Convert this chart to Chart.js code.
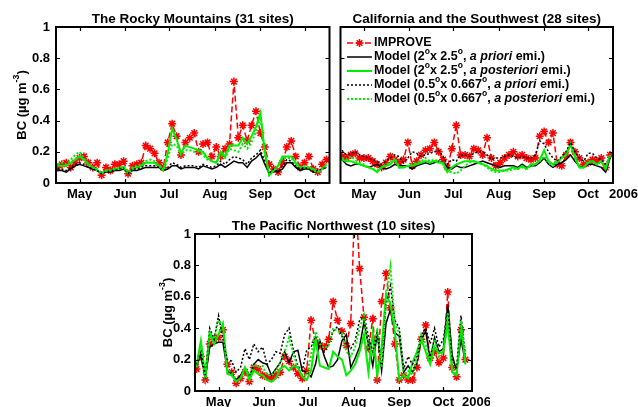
<!DOCTYPE html>
<html>
<head>
<meta charset="utf-8">
<script src="https://cdn.jsdelivr.net/npm/chart.js@4.4.1/dist/chart.umd.min.js"></script>
<style>
  html, body { margin: 0; padding: 0; background: #fff; width: 638px; height: 407px; overflow: hidden; }
  canvas { position: absolute; }
</style>
</head>
<body>
<canvas id="rocky" width="335" height="205" style="left:0px;top:0px"></canvas>
<canvas id="calif" width="303" height="205" style="left:335px;top:0px"></canvas>
<canvas id="pnw" width="345" height="202" style="left:145px;top:205px"></canvas>
<script>
// Sampling days (day of year, 2006), one IMPROVE sample every third day
const sampleDays = [106,109,112,115,118,121,124,127,130,133,136,139,142,145,148,151,154,157,160,163,
  166,169,172,175,178,181,184,187,190,193,196,199,202,205,208,211,214,217,220,223,
  226,229,232,235,238,241,244,247,250,253,256,259,262,265,268,271,274,277,280,283,286,289];

// Month tick positions (first day of month) and their labels
const monthStarts = [121, 152, 182, 213, 244, 274];
const monthNames = ['May', 'Jun', 'Jul', 'Aug', 'Sep', 'Oct'];

// Series names
const seriesNames = [
  'IMPROVE',
  'Model (2°x 2.5°, a priori emi.)',
  'Model (2°x 2.5°, a posteriori emi.)',
  'Model (0.5°x 0.667°, a priori emi.)',
  'Model (0.5°x 0.667°, a posteriori emi.)'
];

// ---- The Rocky Mountains (31 sites) ----
const rockyImprove = [0.10,0.12,0.13,0.10,0.13,0.16,0.17,0.13,0.10,0.13, 0.05,0.10,0.08,0.12,0.12,0.14,0.06,0.11,0.12,0.13,
  0.24,0.22,0.19,0.13,0.10,0.26,0.38,0.30,0.18,0.26, 0.29,0.32,0.20,0.25,0.26,0.17,0.23,0.17,0.22,0.25,
  0.65,0.29,0.37,0.27,0.37,0.46,0.32,0.23,0.12,0.09, 0.07,0.13,0.23,0.27,0.17,0.10,0.13,0.17,0.09,0.07, 0.12,0.15];
const rockyPriori2x25 = [0.08,0.08,0.07,0.09,0.11,0.12,0.11,0.10,0.09,0.08, 0.06,0.07,0.07,0.08,0.08,0.09,0.06,0.08,0.08,0.09,
  0.10,0.10,0.10,0.10,0.08,0.09,0.11,0.11,0.09,0.10, 0.10,0.10,0.09,0.11,0.10,0.09,0.10,0.12,0.10,0.12,
  0.14,0.13,0.13,0.10,0.14,0.16,0.19,0.12,0.06,0.08, 0.07,0.09,0.13,0.13,0.10,0.08,0.09,0.09,0.07,0.07, 0.09,0.10];
const rockyPost2x25 = [0.11,0.11,0.11,0.13,0.15,0.17,0.15,0.12,0.10,0.08, 0.06,0.08,0.08,0.09,0.09,0.10,0.06,0.09,0.10,0.11,
  0.13,0.13,0.13,0.11,0.08,0.19,0.35,0.28,0.19,0.24, 0.23,0.22,0.21,0.20,0.16,0.14,0.13,0.20,0.17,0.24,
  0.24,0.24,0.29,0.25,0.30,0.36,0.45,0.20,0.05,0.08, 0.11,0.17,0.17,0.17,0.13,0.10,0.10,0.10,0.09,0.07, 0.09,0.12];
const rockyPriori05 = [0.09,0.09,0.08,0.10,0.12,0.13,0.12,0.10,0.09,0.08, 0.06,0.07,0.08,0.08,0.09,0.10,0.06,0.09,0.09,0.10,
  0.11,0.11,0.11,0.10,0.08,0.10,0.13,0.12,0.10,0.11, 0.11,0.11,0.10,0.12,0.11,0.10,0.11,0.14,0.12,0.15,
  0.17,0.16,0.15,0.12,0.16,0.18,0.21,0.14,0.06,0.09, 0.07,0.11,0.15,0.14,0.11,0.09,0.10,0.09,0.07,0.08, 0.09,0.10];
const rockyPost05 = [0.12,0.13,0.12,0.15,0.18,0.20,0.16,0.12,0.10,0.09, 0.06,0.08,0.08,0.09,0.10,0.11,0.07,0.10,0.11,0.12,
  0.14,0.15,0.14,0.12,0.08,0.16,0.25,0.24,0.18,0.21, 0.21,0.20,0.20,0.18,0.15,0.14,0.13,0.18,0.16,0.22,
  0.21,0.20,0.25,0.22,0.26,0.33,0.42,0.18,0.05,0.08, 0.11,0.16,0.16,0.16,0.12,0.10,0.11,0.10,0.08,0.07, 0.09,0.11];

// ---- California and the Southwest (28 sites) ----
const califImprove = [0.17,0.16,0.18,0.19,0.16,0.16,0.16,0.14,0.12,0.10, 0.13,0.17,0.15,0.13,0.15,0.26,0.11,0.14,0.18,0.21,
  0.22,0.26,0.20,0.15,0.10,0.22,0.37,0.18,0.18,0.17, 0.22,0.21,0.18,0.29,0.16,0.11,0.13,0.16,0.18,0.20,
  0.17,0.18,0.16,0.15,0.16,0.30,0.33,0.26,0.32,0.12, 0.11,0.18,0.26,0.20,0.16,0.12,0.13,0.15,0.14,0.16, 0.10,0.18];
const califPriori2x25 = [0.15,0.12,0.11,0.12,0.12,0.11,0.10,0.11,0.12,0.10, 0.09,0.10,0.12,0.11,0.11,0.11,0.09,0.11,0.12,0.13,
  0.12,0.13,0.14,0.13,0.10,0.09,0.11,0.10,0.10,0.11, 0.12,0.13,0.14,0.13,0.12,0.11,0.10,0.11,0.11,0.11,
  0.10,0.12,0.10,0.11,0.11,0.13,0.16,0.12,0.10,0.12, 0.13,0.15,0.18,0.14,0.11,0.10,0.12,0.12,0.11,0.10, 0.07,0.16];
const califPost2x25 = [0.15,0.14,0.14,0.13,0.12,0.11,0.10,0.09,0.07,0.10, 0.11,0.12,0.15,0.10,0.10,0.11,0.11,0.12,0.13,0.14,
  0.13,0.14,0.13,0.13,0.07,0.10,0.12,0.13,0.14,0.14, 0.14,0.13,0.12,0.11,0.09,0.08,0.08,0.08,0.09,0.10,
  0.09,0.11,0.09,0.12,0.12,0.15,0.21,0.14,0.12,0.14, 0.16,0.18,0.25,0.17,0.10,0.10,0.13,0.14,0.12,0.14, 0.09,0.18];
const califPriori05 = [0.21,0.18,0.19,0.20,0.18,0.17,0.16,0.15,0.14,0.12, 0.14,0.16,0.18,0.17,0.13,0.16,0.20,0.19,0.17,0.18,
  0.19,0.20,0.21,0.17,0.12,0.15,0.14,0.18,0.18,0.17, 0.19,0.20,0.20,0.18,0.15,0.16,0.16,0.17,0.18,0.17,
  0.16,0.17,0.16,0.16,0.18,0.27,0.25,0.20,0.16,0.14, 0.17,0.20,0.26,0.20,0.16,0.14,0.19,0.19,0.16,0.15, 0.12,0.17];
const califPost05 = [0.16,0.15,0.17,0.15,0.13,0.12,0.10,0.09,0.08,0.10, 0.12,0.13,0.16,0.10,0.10,0.11,0.12,0.13,0.14,0.16,
  0.14,0.15,0.14,0.12,0.07,0.07,0.06,0.08,0.11,0.13, 0.14,0.13,0.12,0.10,0.08,0.07,0.07,0.08,0.08,0.09,
  0.09,0.10,0.09,0.11,0.12,0.14,0.17,0.13,0.11,0.13, 0.16,0.18,0.24,0.16,0.10,0.10,0.14,0.14,0.12,0.14, 0.10,0.18];

// ---- The Pacific Northwest (10 sites) ----
const pnwImprove = [0.14,0.22,0.07,0.30,0.33,0.34,0.39,0.17,0.12,0.05, 0.08,0.12,0.06,0.15,0.14,0.10,0.09,0.08,0.10,0.12,
  0.22,0.19,0.15,0.11,0.08,0.13,0.45,0.31,0.29,0.28, 0.33,0.57,0.45,0.38,0.29,0.43,1.30,0.78,0.47,0.27,
  0.46,0.07,0.57,0.75,0.53,0.30,0.07,0.10,0.07,0.07, 0.15,0.33,0.42,0.21,0.25,0.18,0.21,0.63,0.15,0.09, 0.39,0.20];
const pnwPriori2x25 = [0.16,0.23,0.08,0.28,0.30,0.31,0.31,0.13,0.11,0.07, 0.10,0.14,0.09,0.17,0.20,0.18,0.17,0.10,0.14,0.18,
  0.25,0.18,0.25,0.26,0.13,0.12,0.09,0.17,0.32,0.22, 0.15,0.16,0.20,0.32,0.36,0.15,0.21,0.28,0.44,0.30,
  0.16,0.37,0.13,0.43,0.52,0.37,0.35,0.12,0.16,0.12, 0.18,0.33,0.38,0.20,0.34,0.25,0.27,0.55,0.23,0.13, 0.33,0.18];
const pnwPost2x25 = [0.16,0.32,0.09,0.37,0.30,0.36,0.43,0.11,0.10,0.06, 0.08,0.15,0.07,0.13,0.11,0.10,0.07,0.06,0.08,0.14,
  0.16,0.13,0.16,0.15,0.09,0.07,0.13,0.33,0.16,0.15, 0.14,0.25,0.22,0.20,0.10,0.13,0.17,0.25,0.36,0.12,
  0.37,0.10,0.28,0.62,0.55,0.38,0.07,0.10,0.08,0.18, 0.25,0.33,0.25,0.17,0.28,0.24,0.25,0.43,0.12,0.10, 0.43,0.17];
const pnwPriori05 = [0.17,0.25,0.10,0.40,0.33,0.48,0.33,0.20,0.19,0.12, 0.15,0.27,0.20,0.30,0.25,0.28,0.17,0.20,0.25,0.24,
  0.36,0.40,0.26,0.16,0.13,0.26,0.28,0.35,0.30,0.25, 0.30,0.38,0.41,0.35,0.30,0.27,0.32,0.45,0.48,0.35,
  0.25,0.38,0.15,0.55,0.67,0.45,0.40,0.14,0.22,0.17, 0.22,0.36,0.40,0.30,0.40,0.28,0.33,0.52,0.20,0.15, 0.48,0.23];
const pnwPost05 = [0.15,0.30,0.08,0.38,0.33,0.45,0.42,0.13,0.12,0.06, 0.08,0.15,0.09,0.17,0.15,0.16,0.10,0.10,0.13,0.18,
  0.25,0.34,0.23,0.15,0.10,0.10,0.23,0.38,0.30,0.27, 0.29,0.40,0.38,0.37,0.25,0.22,0.28,0.40,0.48,0.27,
  0.22,0.40,0.15,0.60,0.79,0.43,0.37,0.10,0.13,0.10, 0.20,0.36,0.30,0.19,0.33,0.22,0.25,0.50,0.15,0.10, 0.45,0.20];

// Line styles, one per series
const seriesStyles = [
  { borderColor: '#ff0000', borderWidth: 1.5, borderDash: [6, 3], pointStyle: 'star', pointRadius: 4, pointBorderWidth: 1.5, order: 5 },
  { borderColor: '#000000', borderWidth: 1.5, borderDash: [], pointRadius: 0, order: 4 },
  { borderColor: '#00ee00', borderWidth: 2, borderDash: [], pointRadius: 0, order: 3 },
  { borderColor: '#000000', borderWidth: 1.5, borderDash: [2, 2], pointRadius: 0, order: 2 },
  { borderColor: '#00ee00', borderWidth: 2, borderDash: [2, 2], pointRadius: 0, order: 1 }
];

// Legend text pieces: [text, flags] with i = italic, s = superscript
const legendPieces = [
  [['IMPROVE', '']],
  [['Model (2', ''], ['o', 's'], ['x 2.5', ''], ['o', 's'], [', ', ''], ['a priori', 'i'], [' emi.)', '']],
  [['Model (2', ''], ['o', 's'], ['x 2.5', ''], ['o', 's'], [', ', ''], ['a posteriori', 'i'], [' emi.)', '']],
  [['Model (0.5', ''], ['o', 's'], ['x 0.667', ''], ['o', 's'], [', ', ''], ['a priori', 'i'], [' emi.)', '']],
  [['Model (0.5', ''], ['o', 's'], ['x 0.667', ''], ['o', 's'], [', ', ''], ['a posteriori', 'i'], [' emi.)', '']]
];
const yTitlePieces = [['BC (\u00b5g m', ''], ['-3', 's'], [')', '']];

const FAMILY = '"Liberation Sans", Arial, Helvetica, sans-serif';

function pieceFont(flags, size) {
  const sz = flags.includes('s') ? size * 0.68 : size;
  return (flags.includes('i') ? 'italic ' : '') + 'bold ' + sz + 'px ' + FAMILY;
}
function richWidth(ctx, pieces, size) {
  let w = 0;
  pieces.forEach(([t, f]) => { ctx.font = pieceFont(f, size); w += ctx.measureText(t).width; });
  return w;
}
function drawRich(ctx, pieces, x, y, size, align) {
  let cx = align === 'center' ? x - richWidth(ctx, pieces, size) / 2 : x;
  ctx.textAlign = 'left';
  ctx.textBaseline = 'middle';
  pieces.forEach(([t, f]) => {
    ctx.font = pieceFont(f, size);
    const dy = f.includes('s') ? -size * 0.4 : 0;
    ctx.fillText(t, cx, y + dy);
    cx += ctx.measureText(t).width;
  });
}

// Frame, inside ticks, titles, legend and year label for each panel
const panelDecor = {
  id: 'panelDecor',
  afterDatasetsDraw(chart, args, opts) {
    const { ctx, chartArea: a, scales } = chart;
    const xs = scales.x, ys = scales.y;
    ctx.save();
    ctx.fillStyle = '#000';
    ctx.strokeStyle = '#000';
    ctx.setLineDash([]);
    ctx.lineWidth = 1.2;
    ctx.beginPath();
    monthStarts.forEach(d => {
      const px = Math.round(xs.getPixelForValue(d)) + 0.5;
      ctx.moveTo(px, a.bottom); ctx.lineTo(px, a.bottom - 4);
      ctx.moveTo(px, a.top); ctx.lineTo(px, a.top + 4);
    });
    ys.ticks.forEach(t => {
      const py = Math.round(ys.getPixelForValue(t.value)) + 0.5;
      ctx.moveTo(a.left, py); ctx.lineTo(a.left + 4, py);
      ctx.moveTo(a.right, py); ctx.lineTo(a.right - 4, py);
    });
    ctx.stroke();
    ctx.lineWidth = 2;
    ctx.strokeRect(a.left, a.top, a.right - a.left, a.bottom - a.top);

    // panel title
    ctx.font = 'bold 13.5px ' + FAMILY;
    ctx.textAlign = 'center';
    ctx.textBaseline = 'alphabetic';
    ctx.fillText(opts.title, (a.left + a.right) / 2, a.top - 4);

    // y-axis title
    if (opts.yTitleX != null) {
      ctx.save();
      ctx.translate(opts.yTitleX, (a.top + a.bottom) / 2);
      ctx.rotate(-Math.PI / 2);
      drawRich(ctx, yTitlePieces, 0, 0, 13, 'center');
      ctx.restore();
    }

    // year label after the last month
    if (opts.yearX != null) {
      ctx.font = 'bold 13px ' + FAMILY;
      ctx.textAlign = 'left';
      ctx.textBaseline = 'middle';
      ctx.fillText('2006', a.right + opts.yearX, a.bottom + 11);
    }

    // legend
    if (opts.legend) {
      const L = opts.legend;
      chart.data.datasets.forEach((ds, i) => {
        const yy = L.y + i * L.dy;
        ctx.save();
        ctx.strokeStyle = ds.borderColor;
        ctx.lineWidth = ds.borderWidth;
        ctx.setLineDash(ds.borderDash || []);
        ctx.beginPath();
        ctx.moveTo(L.x, yy); ctx.lineTo(L.x + L.len, yy);
        ctx.stroke();
        ctx.setLineDash([]);
        if (ds.pointRadius > 0) {
          Chart.helpers.drawPoint(ctx, { pointStyle: ds.pointStyle, radius: ds.pointRadius, rotation: 0, borderWidth: ds.pointBorderWidth }, L.x + L.len / 2, yy);
        }
        ctx.restore();
        ctx.fillStyle = '#000';
        drawRich(ctx, legendPieces[i], L.x + L.len + 2, yy, 12.5, 'left');
      });
    }
    ctx.restore();
  }
};

function buildPanel(canvasId, seriesList, o) {
  const datasets = seriesList.map((vals, i) => Object.assign({
    label: seriesNames[i],
    data: sampleDays.map((d, k) => ({ x: d, y: vals[k] })),
    tension: 0,
    fill: false,
    pointBackgroundColor: seriesStyles[i].borderColor,
    pointBorderColor: seriesStyles[i].borderColor
  }, seriesStyles[i]));

  return new Chart(document.getElementById(canvasId), {
    type: 'line',
    data: { datasets },
    plugins: [panelDecor],
    options: {
      responsive: false,
      animation: false,
      events: [],
      layout: { padding: { left: 0, top: o.top, right: o.right, bottom: o.bottom } },
      plugins: {
        legend: { display: false },
        tooltip: { enabled: false },
        title: { display: false },
        panelDecor: o.decor
      },
      scales: {
        x: {
          type: 'linear',
          min: o.xMin, max: o.xMax,
          grid: { display: false, drawTicks: false },
          border: { display: false },
          afterBuildTicks: s => { s.ticks = monthStarts.map(v => ({ value: v })); },
          afterFit: s => { s.height = o.xHeight; },
          ticks: {
            autoSkip: false, maxRotation: 0, padding: 4,
            color: '#000',
            font: { family: FAMILY, weight: 'bold', size: 13 },
            callback: v => monthNames[monthStarts.indexOf(v)]
          }
        },
        y: {
          min: 0, max: 1,
          grid: { display: false, drawTicks: false },
          border: { display: false },
          afterFit: s => { s.width = o.yWidth; },
          ticks: {
            display: o.yLabels,
            stepSize: 0.2, padding: o.yPad,
            color: '#000',
            font: { family: FAMILY, weight: 'bold', size: 13 },
            callback: v => String(+v.toFixed(1))
          }
        }
      }
    }
  });
}

buildPanel('rocky', [rockyImprove, rockyPriori2x25, rockyPost2x25, rockyPriori05, rockyPost05], {
  top: 27, right: 4, bottom: 5, xHeight: 17, yWidth: 56, yPad: 6, yLabels: true, xMin: 105, xMax: 291,
  decor: { title: 'The Rocky Mountains (31 sites)', yTitleX: 22 }
});
buildPanel('calif', [califImprove, califPriori2x25, califPost2x25, califPriori05, califPost05], {
  top: 27, right: 25, bottom: 5, xHeight: 17, yWidth: 3, yPad: 6, yLabels: false, xMin: 105, xMax: 291,
  decor: { title: 'California and the Southwest (28 sites)', yearX: -4,
           legend: { x: 12, len: 25, y: 43, dy: 14 } }
});
buildPanel('pnw', [pnwImprove, pnwPriori2x25, pnwPost2x25, pnwPriori05, pnwPost05], {
  top: 29, right: 18, bottom: 0, xHeight: 16, yWidth: 50, yPad: 4, yLabels: true, xMin: 105, xMax: 293.5,
  decor: { title: 'The Pacific Northwest (10 sites)', yTitleX: 23, yearX: -10 }
});
</script>
</body>
</html>
